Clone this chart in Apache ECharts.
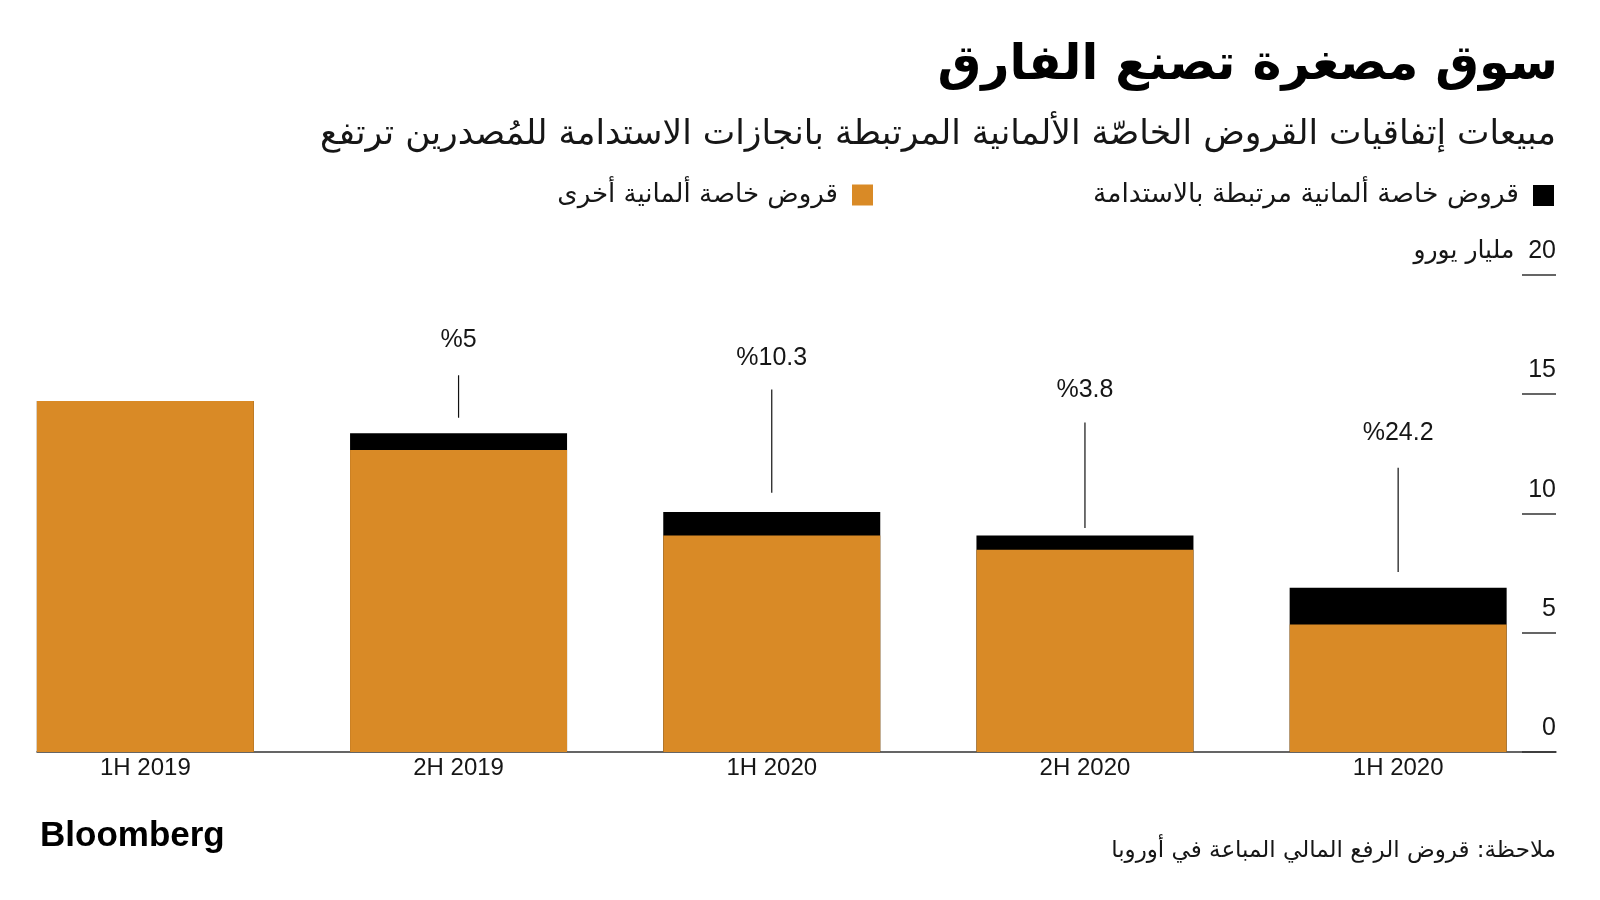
<!DOCTYPE html>
<html>
<head>
<meta charset="utf-8">
<title>سوق مصغرة تصنع الفارق</title>
<script src="https://cdn.jsdelivr.net/npm/echarts@6/dist/echarts.min.js"></script>
<style>
  html, body { margin: 0; padding: 0; background: #fff; }
  #chart { width: 1600px; height: 900px; }
</style>
</head>
<body>
<div id="chart"></div>
<script>
  // الفترات (نصف سنوي)
  const periods = ['1H 2019', '2H 2019', '1H 2020', '2H 2020', '1H 2020']
  // مليار يورو
  const otherLoans = [14.7, 12.65, 9.07, 8.47, 5.34]
  const sustainLoans = [0, 0.7, 0.98, 0.6, 1.54]
  // حصة القروض المرتبطة بالاستدامة
  const shareLabels = ['', '%5', '%10.3', '%3.8', '%24.2']
  // موقع خط التعليق والنص (بوحدات المحور)
  const leaderLow = [null, 14.0, 10.86, 9.38, 7.54]
  const leaderHigh = [null, 15.78, 15.18, 13.8, 11.91]
  const labelLevel = [null, 17.25, 16.48, 15.15, 13.36]

  const ORANGE = '#D98A26'
  const INK = '#161616'
  const AR = '"DejaVu Sans", "Noto Sans", sans-serif'
  const LAT = '"Liberation Sans", Arial, sans-serif'

  // black part sits on top of orange part: draw the total in black, orange over it
  const totals = otherLoans.map((v, i) => v + sustainLoans[i])

  const annotations = []
  shareLabels.forEach((t, i) => {
    if (t) annotations.push([i, leaderLow[i], leaderHigh[i], labelLevel[i]])
  })
  const annotationText = shareLabels.filter(t => t)

  const chart = echarts.init(document.getElementById('chart'))
  const option = {
    backgroundColor: '#fff',
    animation: false,
    title: [
      {
        text: 'سوق مصغرة تصنع الفارق',
        right: 37, top: 37,
        textStyle: { fontFamily: AR, fontWeight: 'bold', fontSize: 49, color: '#000' }
      },
      {
        text: 'مبيعات إتفاقيات القروض الخاصّة الألمانية المرتبطة بانجازات الاستدامة للمُصدرين ترتفع',
        right: 39, top: 113,
        textStyle: { fontFamily: AR, fontWeight: 'normal', fontSize: 34.5, color: INK }
      },
      {
        text: 'Bloomberg',
        left: 35, top: 814,
        textStyle: { fontFamily: LAT, fontWeight: 'bold', fontSize: 35, color: '#000' }
      },
      {
        text: 'ملاحظة: قروض الرفع المالي المباعة في أوروبا',
        right: 39, top: 835,
        textStyle: { fontFamily: AR, fontWeight: 'normal', fontSize: 23, color: INK }
      }
    ],
    legend: [
      {
        data: ['قروض خاصة ألمانية مرتبطة بالاستدامة'],
        right: 46, top: 182, padding: 0,
        align: 'right', icon: 'rect', itemWidth: 21, itemHeight: 21,
        textStyle: { fontFamily: AR, fontSize: 26.5, color: INK, padding: [0, 9, 0, 0] }
      },
      {
        data: ['قروض خاصة ألمانية أخرى'],
        right: 727, top: 182, padding: 0,
        align: 'right', icon: 'rect', itemWidth: 21, itemHeight: 21,
        textStyle: { fontFamily: AR, fontSize: 26, color: INK, padding: [0, 9, 0, 0] }
      }
    ],
    grid: { left: 37, right: 44, top: 274.5, bottom: 148, containLabel: false },
    xAxis: {
      type: 'value',
      min: -0.346,
      max: 4.504,
      axisLine: { show: true, onZero: false, lineStyle: { color: '#333', width: 1.5 } },
      axisTick: { show: false },
      splitLine: { show: false },
      axisLabel: {
        customValues: [0, 1, 2, 3, 4],
        formatter: v => periods[v],
        margin: 4,
        fontFamily: LAT, fontSize: 24, color: INK
      }
    },
    yAxis: {
      type: 'value',
      position: 'right',
      min: 0, max: 20, interval: 5,
      axisLine: { show: false, onZero: false },
      axisTick: { show: true, inside: true, length: 34, lineStyle: { color: '#333', width: 1.5 } },
      splitLine: { show: false },
      axisLabel: {
        inside: true, margin: 0,
        verticalAlign: 'bottom',
        padding: [0, 0, 11, 0],
        fontFamily: LAT, fontSize: 25, color: INK,
        formatter: v => v === 20 ? '{u|مليار يورو}  20' : String(v),
        rich: { u: { fontFamily: AR, fontSize: 25, color: INK } }
      }
    },
    series: [
      {
        name: 'قروض خاصة ألمانية مرتبطة بالاستدامة',
        type: 'bar',
        barWidth: 217,
        barGap: '-100%',
        itemStyle: { color: '#000' },
        data: totals.map((v, i) => [i, v])
      },
      {
        name: 'قروض خاصة ألمانية أخرى',
        type: 'bar',
        barWidth: 217,
        barGap: '-100%',
        itemStyle: { color: ORANGE },
        data: otherLoans.map((v, i) => [i, v])
      },
      {
        type: 'custom',
        silent: true,
        data: annotations,
        renderItem(params, api) {
          const x = api.value(0)
          const p1 = api.coord([x, api.value(1)])
          const p2 = api.coord([x, api.value(2)])
          const p3 = api.coord([x, api.value(3)])
          return {
            type: 'group',
            children: [
              {
                type: 'line',
                shape: { x1: p1[0], y1: p1[1], x2: p2[0], y2: p2[1] },
                style: { stroke: '#111', lineWidth: 1.2 }
              },
              {
                type: 'text',
                x: p3[0], y: p3[1],
                style: {
                  text: annotationText[params.dataIndex],
                  fill: INK,
                  font: '25px "Liberation Sans", Arial, sans-serif',
                  align: 'center', verticalAlign: 'middle'
                }
              }
            ]
          }
        }
      }
    ]
  }
  chart.setOption(option)
</script>
</body>
</html>
